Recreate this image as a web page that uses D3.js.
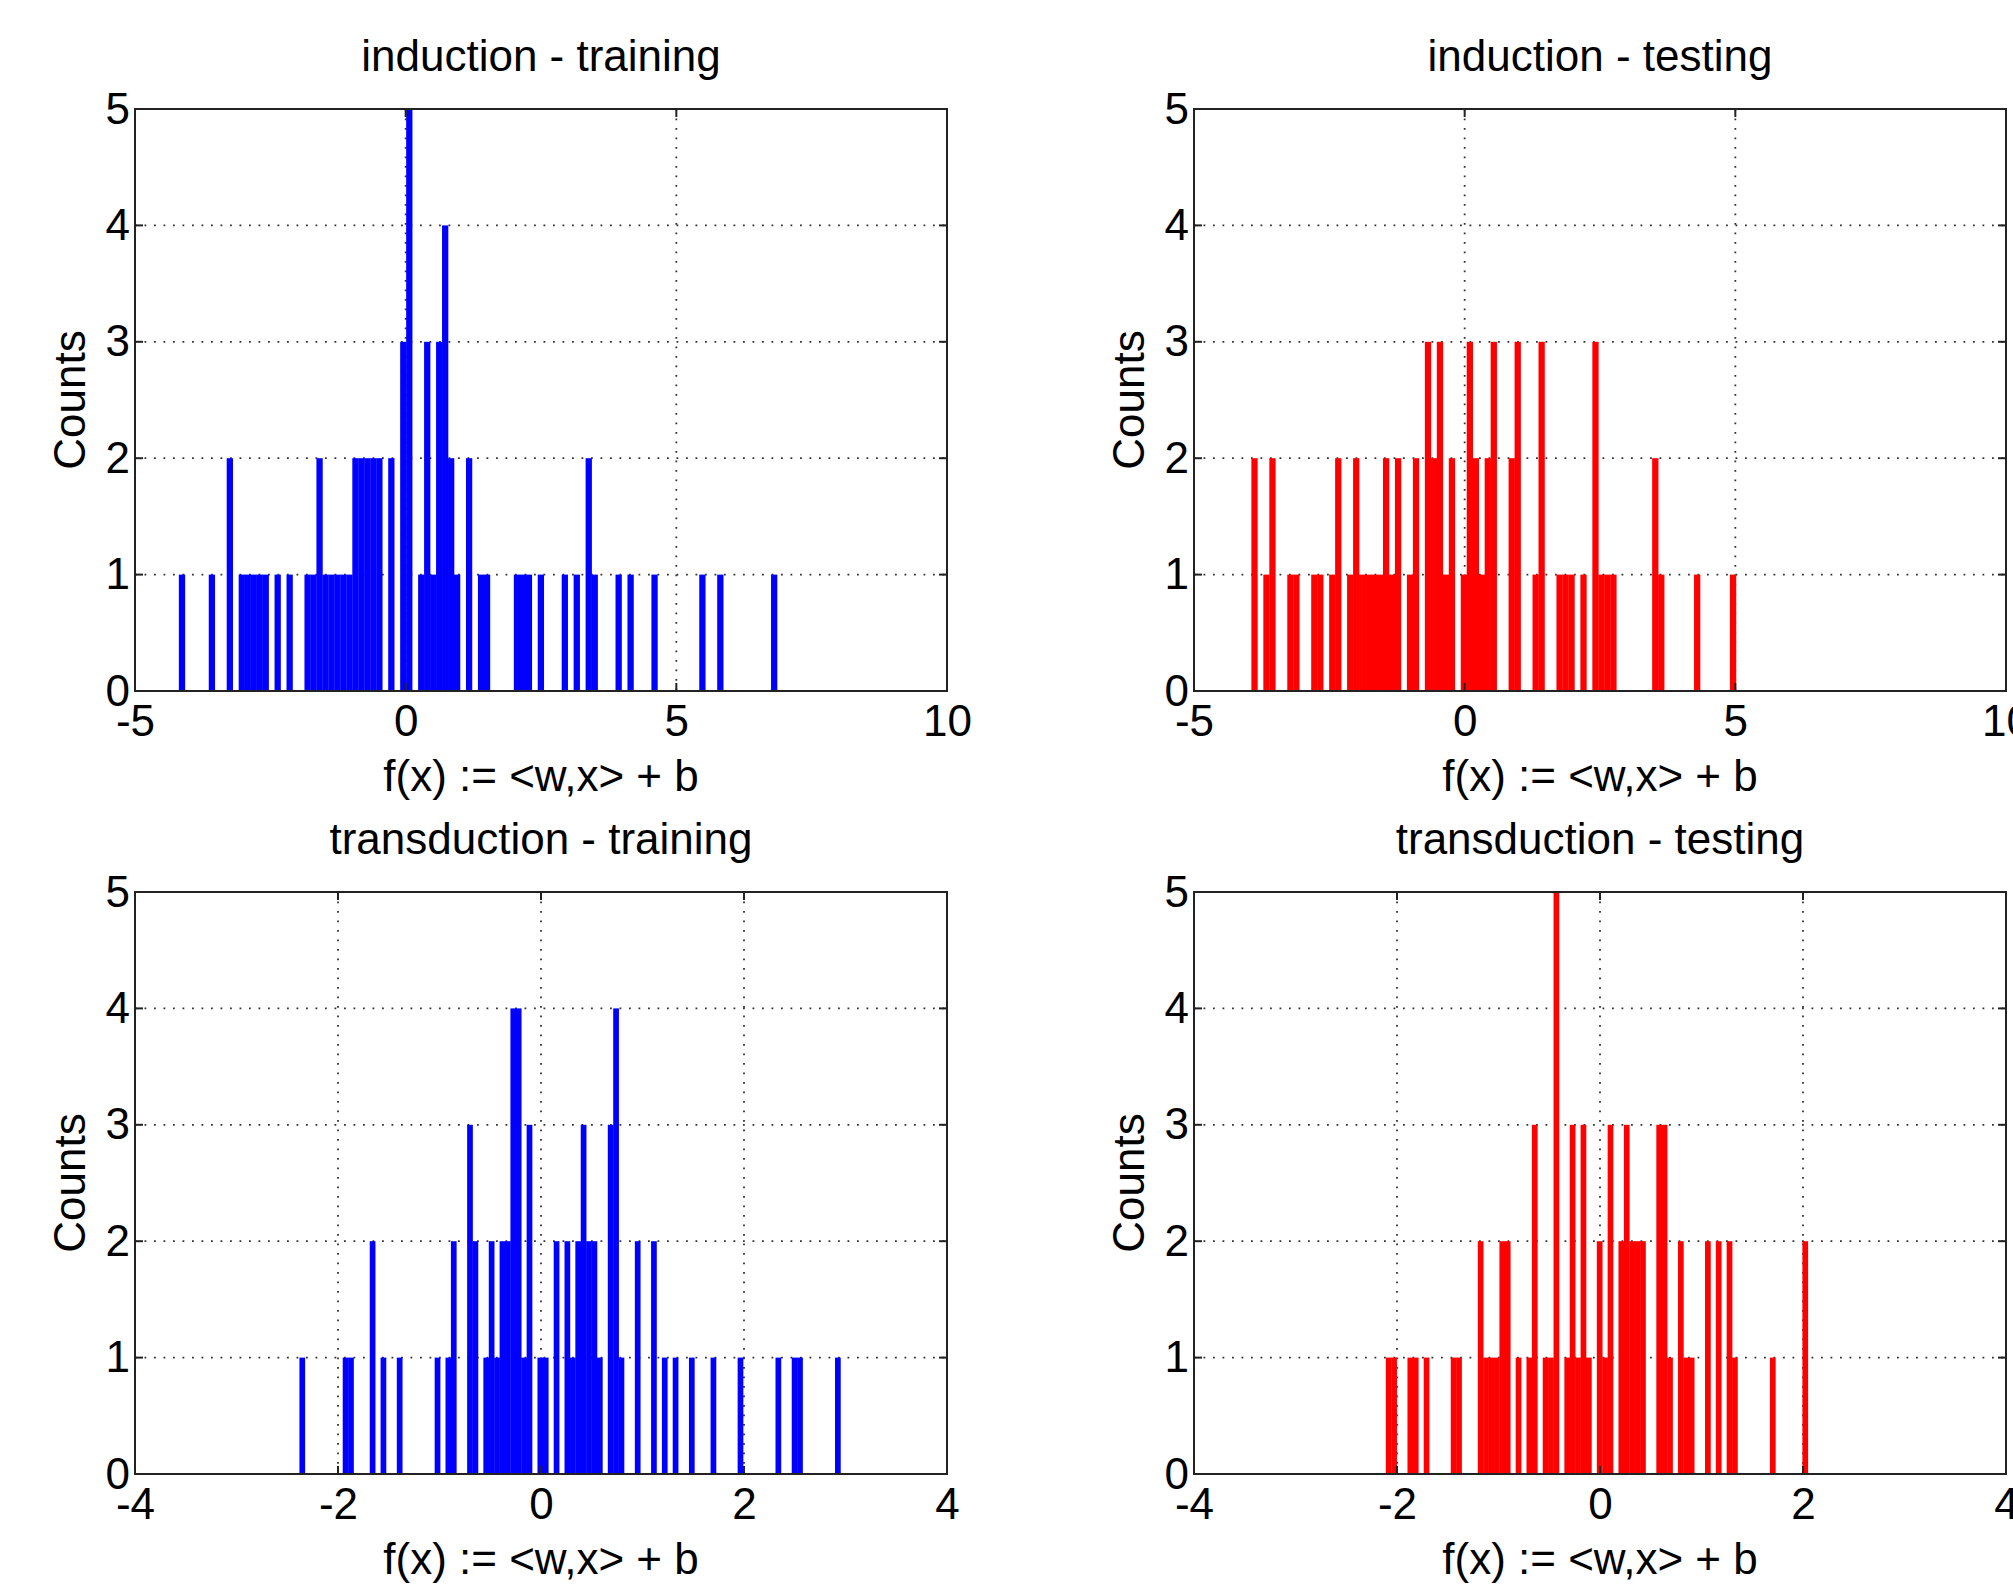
<!DOCTYPE html>
<html>
<head>
<meta charset="utf-8">
<script src="https://cdn.jsdelivr.net/npm/d3@7"></script>
<style>
body { margin: 0; background: #fff; }
svg text { font-family: "Liberation Sans", Arial, Helvetica, sans-serif; fill: #000; }
</style>
</head>
<body>
<svg id="fig" width="2013" height="1588"></svg>
<script>
// bin counts, one array per histogram
var indTrainCounts = [
  1,0,0,0,0, 1,0,0,2,0, 1,1,1,1,1, 0,1,0,1,0,
  0,1,1,2,1, 1,1,1,1,2, 2,2,2,2,0, 2,0,3,5,0,
  1,3,1,3,4, 2,1,0,2,0, 1,1,0,0,0, 0,1,1,1,0,
  1,0,0,0,1, 0,1,0,2,1, 0,0,0,1,0, 1,0,0,0,1,
  0,0,0,0,0, 0,0,1,0,0, 1,0,0,0,0, 0,0,0,0,1];
var indTestCounts = [
  2,0,1,2,0, 0,1,1,0,0, 1,1,0,1,2, 0,1,2,1,1,
  1,1,2,1,2, 0,1,2,0,3, 2,3,1,2,0, 1,3,2,1,2,
  3,0,0,2,3, 0,0,1,3,0, 0,1,1,1,0, 1,0,3,1,1,
  1,0,0,0,0, 0,0,2,1,0, 0,0,0,0,1, 0,0,0,0,0, 1];
var transTrainCounts = [
  1,0,0,0,0, 0,0,0,1,1, 0,0,0,2,0, 1,0,0,1,0,
  0,0,0,0,0, 1,0,1,2,0, 0,3,2,0,1, 2,1,2,2,4,
  4,1,3,0,1, 1,0,2,0,2, 1,2,3,2,2, 1,0,3,4,1,
  0,0,2,0,0, 2,0,1,0,1, 0,0,1,0,0, 0,1,0,0,0,
  0,1,0,0,0, 0,0,0,1,0, 0,1,1,0,0, 0,0,0,0,1];
var transTestCounts = [
  1,1,0,0,1, 1,0,1,0,0, 0,0,1,1,0, 0,0,2,1,1,
  1,2,2,0,1, 0,1,3,0,1, 1,5,0,1,3, 1,3,1,0,2,
  1,3,0,2,3, 2,2,2,0,0, 3,3,1,0,2, 1,1,0,0,2,
  0,2,0,2,1, 0,0,0,0,0, 0,1,0,0,0, 0,0,2];

// first bin edge and bin width of each histogram
var indTrainBins = [-4.19, 0.1105];
var indTestBins = [-3.94, 0.1105];
var transTrainBins = [-2.38, 0.0533];
var transTestBins = [-2.11, 0.0533];

var indTicks = [-5, 0, 5, 10];
var transTicks = [-4, -2, 0, 2, 4];
var countTicks = [0, 1, 2, 3, 4, 5];

var titles = ["induction - training", "induction - testing",
              "transduction - training", "transduction - testing"];
var xLabel = "f(x) := <w,x> + b";
var yLabel = "Counts";

var svg = d3.select("#fig");

//plain labels, with an ascii minus like the original
function fmt(d) { return String(d); }

function draw_panel(left, top, counts, bins, xticks, color, title) {
    var w = 812, h = 582;
    var g = svg.append("g").attr("transform", "translate(" + left + "," + top + ")");

    var xScale = d3.scaleLinear()
    .domain([xticks[0], xticks[xticks.length - 1]])
    .range([0, w]);

    var yScale = d3.scaleLinear()
    .domain([0, 5])
    .range([h, 0]);

    //dotted grid, inner ticks only
    g.selectAll(".vgrid")
    .data(xticks.slice(1, -1))
    .enter().append("line")
    .attr("x1", xScale).attr("x2", xScale)
    .attr("y1", 0).attr("y2", h)
    .attr("stroke", "#333").attr("stroke-width", 1.8)
    .attr("stroke-dasharray", "1.8,7.7");

    g.selectAll(".hgrid")
    .data(countTicks.slice(1, -1))
    .enter().append("line")
    .attr("y1", yScale).attr("y2", yScale)
    .attr("x1", 0).attr("x2", w)
    .attr("stroke", "#333").attr("stroke-width", 1.8)
    .attr("stroke-dasharray", "1.8,7.7");

    //histogram bars
    var lo = bins[0], bw = bins[1];
    g.selectAll(".bar")
    .data(counts.map(function (c, i) { return {i: i, c: c}; }).filter(function (d) { return d.c > 0; }))
    .enter().append("rect")
    .attr("x", function (d) { return xScale(lo + d.i * bw); })
    .attr("width", function (d) { return xScale(lo + (d.i + 1) * bw) - xScale(lo + d.i * bw) + 0.3; })
    .attr("y", function (d) { return yScale(d.c); })
    .attr("height", function (d) { return yScale(0) - yScale(d.c); })
    .attr("fill", color);

    //box
    g.append("rect")
    .attr("width", w).attr("height", h)
    .attr("fill", "none").attr("stroke", "#222").attr("stroke-width", 2);

    //inward tick marks on all four sides
    var tk = 8;
    xticks.forEach(function (t) {
        g.append("line").attr("x1", xScale(t)).attr("x2", xScale(t)).attr("y1", h).attr("y2", h - tk).attr("stroke", "#222").attr("stroke-width", 2);
        g.append("line").attr("x1", xScale(t)).attr("x2", xScale(t)).attr("y1", 0).attr("y2", tk).attr("stroke", "#222").attr("stroke-width", 2);
    });
    countTicks.forEach(function (t) {
        g.append("line").attr("y1", yScale(t)).attr("y2", yScale(t)).attr("x1", 0).attr("x2", tk).attr("stroke", "#222").attr("stroke-width", 2);
        g.append("line").attr("y1", yScale(t)).attr("y2", yScale(t)).attr("x1", w).attr("x2", w - tk).attr("stroke", "#222").attr("stroke-width", 2);
    });

    //tick labels
    var baxis = d3.axisBottom(xScale).tickValues(xticks).tickFormat(fmt).tickSize(0).tickPadding(14);
    var bg = g.append("g").attr("transform", "translate(0," + h + ")").call(baxis);
    bg.select(".domain").remove();
    bg.selectAll("text").attr("font-size", 44).attr("font-family", "Liberation Sans, Arial, sans-serif").attr("fill", "#000");

    var laxis = d3.axisLeft(yScale).tickValues(countTicks).tickFormat(fmt).tickSize(0).tickPadding(5);
    var lg = g.append("g").call(laxis);
    lg.select(".domain").remove();
    lg.selectAll("text").attr("font-size", 44).attr("font-family", "Liberation Sans, Arial, sans-serif").attr("fill", "#000");

    //title and labels
    g.append("text")
    .attr("x", w / 2).attr("y", -38)
    .attr("text-anchor", "middle").attr("font-size", 44)
    .text(title);

    g.append("text")
    .attr("x", w / 2).attr("y", h + 100)
    .attr("text-anchor", "middle").attr("font-size", 44)
    .text(xLabel);

    g.append("text")
    .attr("transform", "translate(-50," + (h / 2) + ") rotate(-90)")
    .attr("text-anchor", "middle").attr("font-size", 44)
    .text(yLabel);
}

draw_panel(135, 109, indTrainCounts, indTrainBins, indTicks, "#0000ff", titles[0]);
draw_panel(1194, 109, indTestCounts, indTestBins, indTicks, "#ff0000", titles[1]);
draw_panel(135, 892, transTrainCounts, transTrainBins, transTicks, "#0000ff", titles[2]);
draw_panel(1194, 892, transTestCounts, transTestBins, transTicks, "#ff0000", titles[3]);
</script>
</body>
</html>
